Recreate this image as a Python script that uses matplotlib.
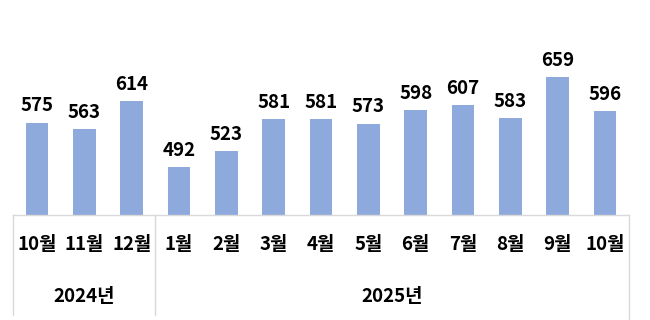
import matplotlib
matplotlib.use("Agg")
import matplotlib.pyplot as plt

plt.rcParams['font.family'] = ['Noto Sans CJK KR', 'DejaVu Sans']

months = ["10월", "11월", "12월", "1월", "2월", "3월", "4월", "5월", "6월", "7월", "8월", "9월", "10월"]
values = [575, 563, 614, 492, 523, 581, 581, 573, 598, 607, 583, 659, 596]
years = ["2024년", "2025년"]
year_counts = [3, 10]

W, H = 650, 320
fig = plt.figure(figsize=(6.5, 3.2), dpi=100)
ax = fig.add_axes([13.3 / W, (H - 215) / H, (628.7 - 13.3) / W, (215 - 55) / H])

x = list(range(len(values)))
bars = ax.bar(x, values, width=0.48, color="#8EA9DB")
ax.set_xlim(-0.5, len(values) - 0.5)
ax.set_ylim(404, 700)

for xi, v in zip(x, values):
    ax.annotate(str(v), (xi, v), xytext=(0, 12), textcoords="offset points",
                ha="center", va="center", fontsize=13.5, fontweight="bold", color="#000000")

for s in ["top", "left", "right"]:
    ax.spines[s].set_visible(False)
ax.spines["bottom"].set_color("#D9D9D9")
ax.spines["bottom"].set_linewidth(1)
ax.set_xticks([])
ax.set_yticks([])

tr = ax.get_xaxis_transform()
for xi, m in zip(x, months):
    ax.text(xi, -30 / 160, m, transform=tr, ha="center", va="center",
            fontsize=13.5, fontweight="bold", color="#000000")

start = 0
bounds = [-0.5]
for yl, c in zip(years, year_counts):
    center = start + (c - 1) / 2
    ax.text(center, -82 / 160, yl, transform=tr, ha="center", va="center",
            fontsize=13.5, fontweight="bold", color="#000000")
    start += c
    bounds.append(start - 0.5)

for i, b in enumerate(bounds):
    low = -0.66 if i == len(bounds) - 1 else -0.625
    ax.plot([b, b], [0, low], transform=tr, color="#D9D9D9", lw=1, clip_on=False)

fig.savefig("out.png", dpi=100, facecolor="white")
